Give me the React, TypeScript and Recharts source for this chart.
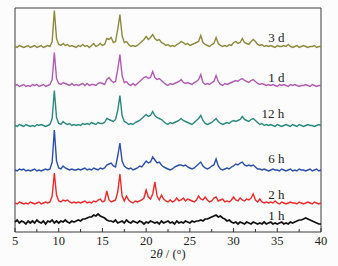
import { LineChart, Line, XAxis, YAxis, ReferenceArea, ReferenceDot } from 'recharts';

// ── Data (intensity above each trace's own baseline) ─────
// 2θ sampled every 0.25° from 5° to 40°
const twoTheta = Array.from({ length: 141 }, (_, i) => 5 + i * 0.25);

const pattern3d = [
  1, 0, 2, 1, 0, 1, 2, 0, 1, 2, 0, 1, 2, 0, 1, 2, 1, 6, 37, 9,
  3, 2, 4, 2, 3, 1, 2, 1, 0, 2, 1, 3, 1, 2, 0, 2, 4, 1, 2, 4,
  2, 3, 9, 8, 10, 5, 6, 18, 33, 12, 5, 6, 3, 1, 2, 1, 2, 4, 6, 8,
  11, 8, 10, 13, 9, 7, 8, 5, 4, 2, 3, 1, 2, 1, 3, 4, 6, 5, 3, 4,
  2, 3, 4, 5, 6, 12, 5, 3, 2, 1, 3, 4, 10, 4, 2, 1, 2, 1, 3, 2,
  5, 6, 4, 5, 9, 5, 4, 3, 6, 8, 6, 3, 2, 3, 1, 2, 1, 2, 1, 0,
  2, 1, 1, 2, 1, 3, 1, 0, 1, 2, 0, 1, 2, 1, 0, 1, 1, 2, 0, 1,
  1,
];
const pattern1d = [
  1, 2, 0, 1, 2, 0, 1, 0, 2, 1, 2, 0, 1, 2, 0, 1, 2, 7, 34, 8,
  3, 2, 4, 3, 2, 1, 3, 1, 2, 1, 2, 3, 1, 3, 1, 2, 2, 1, 3, 4,
  3, 2, 7, 9, 6, 4, 5, 17, 32, 11, 4, 5, 2, 1, 3, 1, 3, 5, 7, 9,
  10, 8, 9, 15, 9, 7, 8, 6, 4, 2, 1, 3, 2, 3, 4, 5, 7, 4, 3, 4,
  3, 2, 4, 5, 7, 12, 4, 2, 3, 2, 4, 5, 11, 5, 2, 1, 3, 2, 3, 4,
  5, 6, 5, 7, 8, 6, 5, 4, 6, 7, 5, 3, 2, 3, 2, 1, 2, 1, 2, 1,
  0, 2, 1, 2, 1, 0, 2, 1, 2, 1, 0, 1, 1, 2, 1, 0, 2, 1, 0, 1,
  1,
];
const pattern12h = [
  1, 0, 2, 1, 0, 2, 1, 0, 1, 0, 2, 1, 2, 1, 0, 1, 2, 8, 36, 9,
  3, 2, 5, 3, 2, 3, 1, 2, 1, 2, 1, 3, 2, 3, 2, 4, 3, 2, 4, 3,
  3, 4, 8, 7, 6, 5, 7, 16, 31, 11, 5, 4, 2, 3, 2, 4, 5, 6, 8, 10,
  12, 10, 11, 15, 11, 9, 8, 7, 5, 3, 2, 4, 3, 4, 5, 6, 8, 6, 5, 4,
  3, 2, 4, 6, 8, 11, 6, 3, 2, 3, 4, 6, 8, 5, 3, 2, 3, 4, 3, 5,
  6, 5, 6, 7, 10, 7, 6, 5, 7, 8, 6, 4, 2, 3, 1, 2, 1, 2, 1, 0,
  2, 1, 0, 1, 2, 1, 0, 2, 1, 0, 2, 1, 0, 1, 2, 1, 1, 0, 1, 2,
  1,
];
const pattern6h = [
  1, 0, 2, 1, 2, 0, 1, 0, 1, 2, 0, 1, 0, 1, 2, 1, 2, 9, 41, 10,
  3, 2, 5, 3, 2, 1, 2, 1, 1, 2, 1, 2, 3, 1, 2, 1, 3, 2, 1, 3,
  2, 3, 6, 7, 8, 5, 4, 15, 28, 10, 5, 3, 2, 3, 1, 2, 3, 5, 4, 7,
  10, 8, 9, 14, 11, 8, 9, 6, 4, 3, 2, 1, 2, 4, 5, 6, 6, 5, 6, 4,
  3, 2, 3, 5, 7, 9, 5, 3, 2, 3, 5, 6, 12, 5, 2, 1, 2, 3, 2, 4,
  5, 7, 6, 8, 9, 6, 5, 6, 5, 6, 4, 2, 2, 1, 2, 1, 0, 1, 2, 1,
  1, 0, 2, 1, 0, 1, 2, 0, 1, 0, 2, 1, 1, 0, 1, 2, 0, 1, 2, 0,
  1,
];
const pattern2h = [
  1, 0, 2, 1, 0, 1, 0, 2, 1, 0, 1, 2, 0, 1, 2, 1, 2, 8, 31, 9,
  3, 2, 4, 3, 4, 2, 1, 2, 1, 2, 1, 2, 3, 1, 2, 1, 3, 2, 4, 5,
  2, 3, 13, 4, 2, 3, 4, 12, 30, 8, 3, 8, 4, 2, 1, 3, 2, 3, 4, 6,
  14, 7, 5, 10, 22, 8, 4, 9, 5, 3, 2, 4, 2, 3, 6, 3, 4, 6, 3, 5,
  4, 3, 2, 4, 8, 5, 4, 7, 4, 2, 3, 6, 7, 3, 4, 5, 2, 3, 2, 4,
  7, 4, 3, 6, 4, 3, 5, 4, 6, 10, 4, 2, 5, 2, 1, 2, 1, 2, 1, 3,
  1, 0, 2, 1, 0, 1, 2, 1, 1, 0, 2, 1, 0, 1, 2, 1, 0, 2, 1, 0,
  1,
];
const pattern1h = [
  1, 3, 0, 2, 1, -1, 2, 0, 2, 0, 3, 1, 0, 2, -1, 2, 1, 3, 0, 2,
  0, 2, 1, 3, 1, 0, 2, 1, 2, 3, 2, 4, 4, 5, 6, 6, 8, 7, 9, 7,
  6, 5, 3, 2, 2, 1, 3, 0, 1, 2, 0, 3, 1, 0, 2, 1, 0, 2, 1, -1,
  1, 0, 2, 1, 0, 1, -1, 2, 0, 1, 2, 0, 1, -1, 2, 0, 1, 0, 2, 1,
  0, 2, 1, 2, 2, 3, 2, 4, 4, 5, 6, 7, 8, 6, 7, 5, 4, 2, 3, 1,
  0, 1, -1, 1, 0, -1, 1, 0, -1, 1, 0, -1, 0, -1, 1, -1, 0, 1, -1, 0,
  -1, 0, 1, -1, 0, -1, 1, 0, 1, 2, 3, 3, 4, 5, 4, 3, 2, 1, 0, -1,
  -1,
];

const seriesKeys = ['d3', 'd1', 'h12', 'h6', 'h2', 'h1'];
const seriesNames = ['3 d', '1 d', '12 h', '6 h', '2 h', '1 h'];
const seriesPatterns = [pattern3d, pattern1d, pattern12h, pattern6h, pattern2h, pattern1h];
const seriesOffsets = [184.5, 145.5, 105.5, 61, 28, 9];
const seriesColors = ['#8c8a3c', '#b25bb4', '#2b8a7e', '#2c4fae', '#ef2a2a', '#111111'];

const xTicks = [5, 7.5, 10, 12.5, 15, 17.5, 20, 22.5, 25, 27.5, 30, 32.5, 35, 37.5, 40];

const rows = twoTheta.map((t, i) => {
  const row: Record<string, number> = { t };
  seriesKeys.forEach((k, s) => {
    row[k] = seriesOffsets[s] + seriesPatterns[s][i];
  });
  return row;
});

// label anchors (2θ, plot units)
const labelX = [34.9, 34.9, 34.5, 34.9, 34.9, 34.9];
const labelY = [195, 155, 119, 74, 38, 17];

const FONT = '"Liberation Serif", "Times New Roman", serif';

function Tick(props: any) {
  const { x, y, payload } = props;
  const major = payload.value % 5 === 0;
  return (
    <g>
      <line x1={x} y1={y} x2={x} y2={y - (major ? 4 : 3)} stroke="#333" strokeWidth={1} />
      {major && (
        <text x={x} y={y + 12.5} textAnchor="middle" fontSize={12.5} fontFamily={FONT} fill="#222">
          {payload.value}
        </text>
      )}
    </g>
  );
}

function AxisTitle(props: any) {
  const vb = props.viewBox || { x: 15, y: 232, width: 306, height: 30 };
  return (
    <text
      x={vb.x + vb.width / 2}
      y={vb.y + 25.5}
      textAnchor="middle"
      fontSize={12.5}
      fontFamily={FONT}
      fill="#222"
    >
      <tspan>2</tspan>
      <tspan fontStyle="italic">θ</tspan>
      <tspan> / (°)</tspan>
    </text>
  );
}

export default function App() {
  return (
    <div style={{ position: 'absolute', left: 0, top: 0, width: 338, height: 266, background: '#fcfcfc' }}>
      <LineChart
        width={338}
        height={266}
        data={rows}
        margin={{ top: 8, right: 17, bottom: 4, left: 15 }}
      >
        <XAxis
          dataKey="t"
          type="number"
          domain={[5, 40]}
          ticks={xTicks}
          interval={0}
          tickSize={0}
          tickMargin={0}
          tickLine={false}
          axisLine={false}
          height={30}
          tick={<Tick />}
          label={<AxisTitle />}
        />
        <YAxis type="number" domain={[0, 224]} hide allowDataOverflow />
        {seriesKeys.map((k, s) => (
          <Line
            key={k}
            dataKey={k}
            stroke={seriesColors[s]}
            strokeWidth={k === 'h1' ? 1.7 : 1.4}
            dot={false}
            type="linear"
            isAnimationActive={false}
          />
        ))}
        <ReferenceArea
          x1={5}
          x2={40}
          y1={0}
          y2={224}
          fill="none"
          stroke="#3a3a3a"
          strokeWidth={1}
          ifOverflow="visible"
        />
        {seriesNames.map((n, s) => (
          <ReferenceDot
            key={n}
            x={labelX[s]}
            y={labelY[s]}
            r={0}
            fill="none"
            stroke="none"
            label={{
              value: n,
              position: 'center',
              fontSize: 13,
              fontFamily: FONT,
              fill: '#222',
            }}
          />
        ))}
      </LineChart>
    </div>
  );
}
